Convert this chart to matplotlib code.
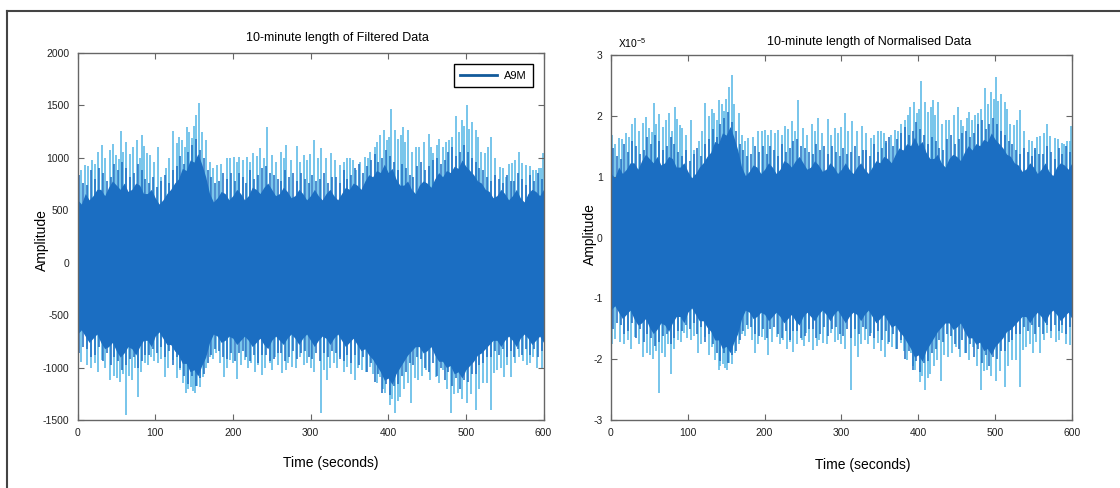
import numpy as np
import matplotlib.pyplot as plt
from matplotlib.lines import Line2D

plt.rcParams['font.family'] = ['Liberation Sans', 'DejaVu Sans']
plt.rcParams['axes.unicode_minus'] = False

# solid core of the A9M record (upper / lower edge), every 5 s
t_env = np.arange(0, 601, 5)
body_hi = [600, 560, 660, 600, 640, 700, 700, 640, 720, 780,
           740, 700, 760, 680, 700, 760, 740, 660, 660, 700,
           620, 560, 600, 660, 700, 760, 800, 900, 880, 980,
           960, 1040, 940, 820, 660, 580, 620, 680, 660, 600,
           640, 700, 660, 600, 640, 720, 700, 660, 720, 760,
           700, 640, 660, 720, 680, 620, 640, 700, 660, 600,
           640, 700, 640, 600, 660, 700, 640, 600, 660, 720,
           700, 760, 740, 700, 780, 840, 820, 880, 860, 940,
           860, 900, 800, 740, 740, 780, 700, 660, 740, 780,
           760, 720, 800, 860, 820, 880, 860, 920, 900, 980,
           920, 880, 840, 780, 760, 700, 680, 620, 640, 700,
           660, 600, 640, 700, 620, 580, 660, 700, 680, 640,
           700]
body_lo = [-680, -640, -700, -760, -720, -680, -760, -820, -800, -760,
           -840, -900, -860, -800, -820, -880, -800, -740, -740, -800,
           -700, -660, -720, -780, -780, -840, -880, -960, -960, -1040,
           -1020, -1080, -980, -900, -760, -680, -700, -760, -740, -700,
           -720, -780, -740, -700, -740, -800, -760, -720, -780, -820,
           -740, -700, -740, -780, -720, -680, -720, -780, -720, -680,
           -740, -800, -740, -700, -720, -780, -720, -680, -740, -800,
           -760, -720, -780, -840, -820, -880, -920, -980, -1040, -1120,
           -1100, -1160, -1060, -1000, -940, -880, -840, -800, -800, -860,
           -840, -800, -880, -940, -940, -1000, -980, -1060, -1040, -1100,
           -1020, -980, -940, -880, -860, -820, -780, -740, -740, -800,
           -740, -700, -740, -800, -720, -680, -720, -780, -740, -700,
           -760]

# dense dark teeth just outside the core, every 5 s from 2.5 s
tooth_t = np.arange(2.5, 600, 5)
tooth_hi = [840, 760, 740, 880, 800, 900, 860, 780, 820, 940,
            880, 960, 900, 820, 860, 940, 880, 800, 760, 820,
            720, 780, 840, 760, 880, 920, 1020, 940, 1060, 1120,
            1180, 1080, 1000, 880, 820, 760, 780, 860, 800, 860,
            780, 860, 820, 760, 880, 800, 840, 900, 920, 860,
            840, 800, 780, 880, 820, 860, 780, 860, 800, 760,
            840, 780, 800, 860, 760, 820, 820, 760, 880, 800,
            840, 900, 940, 860, 920, 980, 1040, 960, 1000, 1080,
            1020, 960, 880, 940, 900, 840, 820, 920, 960, 880,
            920, 980, 1000, 940, 980, 1060, 1100, 1020, 1060, 1120,
            1060, 1000, 960, 900, 880, 820, 780, 840, 800, 760,
            840, 780, 780, 860, 800, 740, 840, 780, 860, 800]
tooth_lo = [-860, -800, -820, -900, -880, -800, -940, -860, -980, -900,
            -940, -1020, -980, -920, -900, -1000, -940, -880, -880, -820,
            -860, -800, -900, -840, -980, -900, -1000, -1080, -1160, -1080,
            -1180, -1100, -1060, -960, -880, -820, -840, -900, -920, -860,
            -940, -860, -840, -900, -940, -880, -960, -880, -880, -940,
            -920, -860, -860, -940, -900, -840, -920, -860, -840, -900,
            -920, -860, -940, -860, -900, -840, -860, -920, -940, -880,
            -960, -880, -980, -900, -1040, -960, -1140, -1060, -1240, -1160,
            -1260, -1180, -1160, -1080, -1040, -960, -980, -900, -920, -1000,
            -1040, -960, -1080, -1000, -1120, -1040, -1180, -1100, -1200, -1120,
            -1140, -1060, -1060, -980, -960, -900, -900, -840, -880, -820,
            -900, -840, -900, -820, -880, -820, -880, -820, -900, -840]

# single light peaks sticking out of the record
peak_hi_t = [1, 10, 14, 27, 31, 42, 50, 56, 62, 68, 76, 83, 86, 93, 104, 108,
             123, 128, 134, 141, 147, 153, 157, 166, 179, 192, 201, 208, 218,
             226, 235, 244, 250, 262, 269, 283, 291, 304, 314, 327, 338, 351,
             358, 370, 377, 389, 394, 398, 404, 409, 419, 426, 431, 436, 452,
             458, 470, 478, 487, 495, 501, 508, 513, 520, 533, 544, 552, 559,
             568, 578, 587, 594, 599,
             5, 19, 23, 36, 46, 53, 59, 72, 80, 90, 98, 114, 118, 131, 138,
             144, 150, 160, 170, 175, 185, 196, 205, 213, 222, 231, 240, 255,
             266, 275, 287, 296, 299, 309, 320, 332, 343, 347, 355, 364, 374,
             383, 386, 401, 413, 416, 422, 440, 446, 455, 463, 466, 474, 482,
             491, 498, 504, 516, 524, 528, 538, 548, 555, 563, 572, 582, 590,
             597]
peak_hi_v = [960, 930, 920, 1060, 1120, 1075, 1030, 1260, 1155, 1040, 1170,
             1220, 1110, 1030, 1105, 820, 1260, 1140, 1170, 1290, 1185, 1410,
             1525, 1170, 930, 995, 1010, 1010, 1005, 1045, 1090, 1290, 1030,
             1060, 1120, 1115, 1030, 1170, 1090, 1045, 930, 995, 885, 1010,
             1060, 1220, 1265, 1170, 1470, 1265, 1290, 1265, 1060, 1105, 1225,
             1045, 1105, 1170, 1400, 1360, 1505, 1345, 1265, 1060, 1195, 915,
             820, 950, 1060, 930, 885, 900, 1045,
             880, 980, 940, 1000, 1130, 990, 1060, 1100, 1000, 1050, 960, 900,
             1000, 1200, 1100, 1250, 1300, 1250, 960, 900, 940, 1000, 960, 980,
             960, 1020, 1000, 960, 1000, 980, 960, 980, 1040, 1000, 1000, 980,
             960, 1000, 980, 960, 1000, 1100, 1150, 1200, 1180, 1220, 1150,
             1100, 1150, 1100, 1120, 1180, 1150, 1200, 1250, 1300, 1280, 1200,
             1050, 1100, 1000, 900, 940, 980, 950, 920, 880, 900]
peak_lo_t = [1, 12, 22, 31, 42, 55, 62, 70, 78, 87, 95, 104, 113, 123, 132,
             140, 146, 151, 158, 162, 170, 178, 188, 196, 205, 216, 224, 237,
             248, 254, 263, 276, 287, 295, 313, 321, 330, 338, 347, 357, 366,
             377, 390, 396, 402, 409, 415, 429, 439, 449, 461, 471, 481, 490,
             501, 513, 522, 532, 540, 549, 558, 568, 579, 587, 598,
             5, 17, 26, 36, 47, 51, 58, 66, 74, 82, 91, 99, 108, 117, 128, 136,
             142, 149, 154, 166, 174, 183, 192, 200, 210, 220, 229, 233, 242,
             251, 258, 268, 271, 281, 291, 300, 305, 317, 325, 334, 343, 352,
             361, 371, 381, 385, 393, 405, 412, 420, 425, 434, 444, 454, 466,
             476, 485, 495, 506, 517, 527, 536, 545, 553, 563, 573, 583, 592]
peak_lo_v = [-1000, -975, -960, -930, -1120, -1135, -1455, -1120, -1280, -960,
             -895, -960, -1085, -930, -1025, -1245, -1185, -1240, -1185, -1085,
             -900, -860, -1085, -930, -1105, -930, -960, -1070, -960, -895,
             -1055, -990, -895, -960, -1430, -1120, -960, -895, -990, -1120,
             -1025, -990, -1085, -1245, -1355, -1430, -1280, -1340, -1120,
             -1025, -1085, -1025, -1430, -1245, -1340, -1405, -1150, -1405,
             -1025, -1085, -1085, -895, -975, -895, -1005,
             -950, -1000, -1040, -1000, -1080, -1100, -1060, -1080, -1000,
             -1040, -980, -940, -920, -1000, -1100, -1150, -1200, -1220, -1180,
             -1000, -920, -960, -1000, -960, -980, -1000, -1040, -980, -1000,
             -1020, -980, -1020, -960, -1000, -980, -1000, -1040, -1020, -1000,
             -1000, -1040, -1060, -1000, -1040, -1060, -1150, -1200, -1300,
             -1320, -1200, -1150, -1100, -1080, -1120, -1150, -1200, -1250,
             -1300, -1250, -1200, -1150, -1050, -1000, -980, -960, -940, -960,
             -1000]

# filtered amplitude that corresponds to 1e-5 of normalised amplitude
norm_factor = 570.0

dark = '#1b6ec2'
light = '#52b5e5'


def draw_signal(ax, scale):
    ax.vlines(peak_hi_t, 0, np.array(peak_hi_v) / scale, color=light, lw=1.1, zorder=1)
    ax.vlines(peak_lo_t, 0, np.array(peak_lo_v) / scale, color=light, lw=1.1, zorder=1)
    ax.vlines(tooth_t, np.array(tooth_lo) / scale, np.array(tooth_hi) / scale,
              color=dark, lw=1.1, zorder=2)
    ax.fill_between(t_env, np.array(body_lo) / scale, np.array(body_hi) / scale,
                    color=dark, lw=0, zorder=2)


def style_axes(ax):
    ax.set_xlim(0, 600)
    ax.set_xticks([0, 100, 200, 300, 400, 500, 600])
    for s in ax.spines.values():
        s.set_color('#666666')
        s.set_linewidth(1.0)
        s.set_zorder(4)
    ax.tick_params(direction='in', length=4, top=True, right=True,
                   color='#666666', labelsize=7.5, labelcolor='#222222', pad=6)


fig = plt.figure(figsize=(11.2, 4.88), dpi=100)

# outer frame
fig.add_artist(Line2D([0.00625, 0.00625], [-0.02, 0.9775], color='#444444', lw=1.5))
fig.add_artist(Line2D([0.00625, 1.02], [0.9775, 0.9775], color='#444444', lw=1.5))

ax1 = fig.add_axes([0.0692, 0.1393, 0.4161, 0.752])
draw_signal(ax1, 1.0)
style_axes(ax1)
ax1.set_ylim(-1500, 2000)
ax1.set_yticks(np.arange(-1500, 2001, 500))
ax1.text(0.557, 1.041, '10-minute length of Filtered Data', transform=ax1.transAxes,
         ha='center', va='center', fontsize=9)
ax1.text(0.544, -0.117, 'Time (seconds)', transform=ax1.transAxes,
         ha='center', va='center', fontsize=10)
ax1.text(-0.076, 0.49, 'Amplitude', transform=ax1.transAxes, rotation=90,
         ha='center', va='center', fontsize=10)
leg = ax1.legend(handles=[Line2D([], [], color='#125a9a', lw=2, label='A9M')],
                 loc='upper right', bbox_to_anchor=(0.977, 0.970), borderaxespad=0,
                 fancybox=False, framealpha=1, edgecolor='black', fontsize=8,
                 handlelength=3.3, handletextpad=0.6, borderpad=0.6)
leg.get_frame().set_linewidth(1.0)

ax2 = fig.add_axes([0.5455, 0.1393, 0.4116, 0.748])
draw_signal(ax2, norm_factor)
style_axes(ax2)
ax2.set_ylim(-3, 3)
ax2.set_yticks(np.arange(-3, 4, 1))
ax2.text(0.56, 1.036, '10-minute length of Normalised Data', transform=ax2.transAxes,
         ha='center', va='center', fontsize=9)
ax2.text(0.547, -0.123, 'Time (seconds)', transform=ax2.transAxes,
         ha='center', va='center', fontsize=10)
ax2.text(-0.046, 0.51, 'Amplitude', transform=ax2.transAxes, rotation=90,
         ha='center', va='center', fontsize=10)
ax2.text(0.015, 1.033, r'X10$^{\mathregular{-5}}$', transform=ax2.transAxes,
         ha='left', va='center', fontsize=7.5)

fig.savefig('out.png', dpi=100)
